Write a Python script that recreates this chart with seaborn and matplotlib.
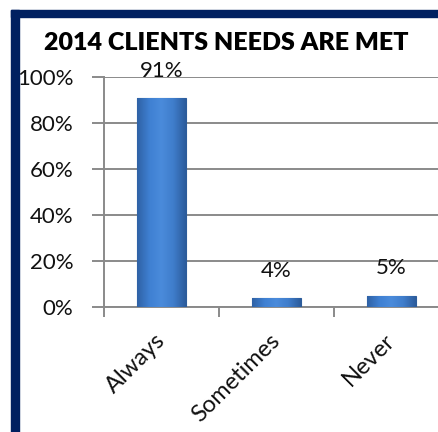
import numpy as np
import pandas as pd
import seaborn as sns
import matplotlib.pyplot as plt
from matplotlib.patches import Rectangle
from matplotlib.colors import LinearSegmentedColormap

# Data
categories = ['Always', 'Sometimes', 'Never']
percent = [91, 4, 5]
yticks = [0, 20, 40, 60, 80, 100]

df = pd.DataFrame({'answer': categories, 'percent': percent})

sns.set_theme(style='white')
plt.rcParams['font.family'] = ['Lato', 'DejaVu Sans']

fig = plt.figure(figsize=(4.39, 4.32), dpi=100)
ax = fig.add_axes([104 / 439, 1 - 307 / 432, 345 / 439, 230 / 432])

sns.barplot(data=df, x='answer', y='percent', color='#3B7ACB', width=0.42,
            edgecolor='#2D5C9A', linewidth=0.8, ax=ax, zorder=3)

# bevelled look: horizontal gradient clipped to each bar
bevel = LinearSegmentedColormap.from_list('bevel', ['#2F62A6', '#3F80D2', '#4A8BDB', '#3F7DCB', '#2C5C9C'])
grad = np.linspace(0, 1, 64).reshape(1, -1)
for p in ax.patches:
    x0, y0 = p.get_x(), p.get_y()
    w, h = p.get_width(), p.get_height()
    im = ax.imshow(grad, cmap=bevel, aspect='auto', extent=(x0, x0 + w, y0, y0 + h), zorder=3.5)
    im.set_clip_path(p)

# data labels above bars
for i, v in enumerate(percent):
    ax.annotate(f'{v}%', (i, v), xytext=(0, 27), textcoords='offset pixels',
                ha='center', va='center', fontsize=16, color='#111111')

ax.set_ylim(0, 100)
ax.set_xlim(-0.5, 2.5)
ax.set_yticks(yticks)
ax.set_yticklabels([f'{t}%' for t in yticks], fontsize=16, color='#111111')
ax.yaxis.grid(True, color='#8a8a8a', linewidth=1.4, zorder=0)
ax.set_axisbelow(True)

# category boundary ticks on x
ax.set_xticks([-0.5, 0.5, 1.5, 2.5], minor=True)
ax.tick_params(axis='x', which='minor', length=7, width=1.4, color='#8a8a8a', direction='out', bottom=True)
ax.tick_params(axis='x', which='major', length=0, pad=22)
ax.tick_params(axis='y', length=9, width=1.4, color='#8a8a8a', direction='out', left=True, pad=13)
ax.set_xticks(range(len(categories)))
ax.set_xticklabels(categories, rotation=45, ha='right', va='center',
                   rotation_mode='anchor', fontsize=17, color='#111111')

for s in ['top', 'right']:
    ax.spines[s].set_visible(False)
for s in ['left', 'bottom']:
    ax.spines[s].set_color('#8a8a8a')
    ax.spines[s].set_linewidth(1.4)

ax.set_xlabel('')
ax.set_ylabel('')

fig.text(226 / 439, 1 - 43 / 432, '2014 CLIENTS NEEDS ARE MET', ha='center', va='center',
         fontsize=18, fontweight='heavy', color='#000000')

# navy frame on left and top
fig.patches.append(Rectangle((11 / 439, 0), 8 / 439, 1 - 10 / 432, transform=fig.transFigure,
                             color='#002060', zorder=5))
fig.patches.append(Rectangle((11 / 439, 1 - 17 / 432), 1, 7 / 432, transform=fig.transFigure,
                             color='#002060', zorder=5))

fig.savefig('out.png', dpi=100)
